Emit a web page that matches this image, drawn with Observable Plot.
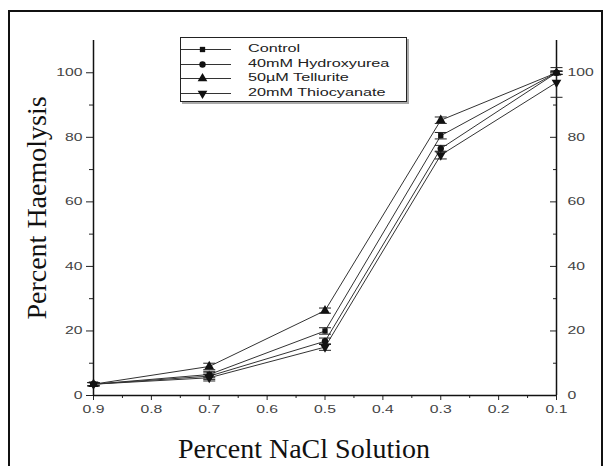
<!DOCTYPE html>
<html><head><meta charset="utf-8">
<script src="https://cdn.jsdelivr.net/npm/d3@7"></script>
<script src="https://cdn.jsdelivr.net/npm/@observablehq/plot@0.6"></script>
<style>
html,body{margin:0;padding:0;background:#fff;overflow:hidden;width:608px;height:466px}
#wrap{position:relative;width:608px;height:466px}
#wrap svg{position:absolute;left:0;top:0}
#frame{position:absolute;left:8px;top:10px;width:595px;height:480px;border:2px solid #111;box-sizing:border-box;pointer-events:none}
#legend{position:absolute;left:180px;top:37px;width:225px;height:63px;border:1px solid #222;box-shadow:2px 2px 0 #aaa;background:#fff;font-family:Arial,"Liberation Sans",sans-serif;font-size:10px;color:#222}
.row{position:absolute;left:0;height:14px;width:100%}
.row svg{position:absolute;left:15px;top:0}
.row span{position:absolute;left:67px;top:0;line-height:14px;display:inline-block;transform:scaleX(1.62);transform-origin:left center;white-space:nowrap}
</style></head>
<body>
<div id="wrap"><div id="frame"></div></div>
<script>
// ---- data ----
const nacl = [0.9, 0.7, 0.5, 0.3, 0.1];
const seriesNames = ["Control", "40mM Hydroxyurea", "50µM Tellurite", "20mM Thiocyanate"];
const control     = [3.5, 6.5, 20.0, 80.5, 100];
const hydroxyurea = [3.5, 6.0, 16.8, 76.5, 100];
const tellurite   = [3.5, 9.0, 26.3, 85.3, 100];
const thiocyanate = [3.5, 5.5, 15.0, 74.5, 97];
const errControl     = [0.5, 1.0, 1.0, 1.0, 0.5];
const errHydroxyurea = [0.5, 1.0, 1.0, 1.0, 0.5];
const errTellurite   = [0.5, 1.0, 0.8, 1.0, 0.5];
const errThiocyanate = [0.5, 1.0, 1.0, 1.2, 4.6];
const yTicks = [0, 20, 40, 60, 80, 100];
const yMinor = [10, 30, 50, 70, 90];
const xTicks = [0.9, 0.8, 0.7, 0.6, 0.5, 0.4, 0.3, 0.2, 0.1];
const xMinor = [0.85, 0.75, 0.65, 0.55, 0.45, 0.35, 0.25, 0.15];
const xTitle = "Percent NaCl Solution";
const yTitle = "Percent Haemolysis";

const seriesValues = [control, hydroxyurea, tellurite, thiocyanate];
const seriesErrors = [errControl, errHydroxyurea, errTellurite, errThiocyanate];
const rows = seriesNames.flatMap((s, i) => nacl.map((x, j) => ({series: s, x, y: seriesValues[i][j], e: seriesErrors[i][j]})));

const capSymbol = {draw(ctx, size) { const w = Math.sqrt(size / Math.PI); ctx.moveTo(-w, 0); ctx.lineTo(w, 0); }};
const symbols = ["square", "circle", "triangle", "triangle"];
const rotations = [0, 0, 0, 180];
const sizes = [3.0, 3.2, 3.6, 3.6];

const dotMarks = seriesNames.map((s, i) => Plot.dot(rows.filter(d => d.series === s), {
  x: "x", y: "y", symbol: symbols[i], rotate: rotations[i], r: sizes[i], fill: "#111", stroke: "none"
}));

const chart = Plot.plot({
  width: 608, height: 466,
  marginLeft: 93, marginRight: 52, marginTop: 40, marginBottom: 71,
  x: {domain: [0.9, 0.1]},
  y: {domain: [0, 110]},
  style: {fontFamily: "Arial, 'Liberation Sans', sans-serif", fontSize: "10.5px", color: "#333", background: "transparent", overflow: "visible"},
  marks: [
    Plot.axisY({anchor: "left", ticks: yTicks, tickSize: 7, tickPadding: 4, label: null, tickFormat: d => String(d), stroke: "#222", fill: "#444"}),
    Plot.axisY({anchor: "left", ticks: yMinor, tickSize: 4, tickFormat: () => "", label: null, stroke: "#222"}),
    Plot.axisY({anchor: "right", ticks: yTicks, tickSize: -7, tickPadding: 18, label: null, tickFormat: d => String(d), stroke: "#222", fill: "#444"}),
    Plot.axisY({anchor: "right", ticks: yMinor, tickSize: -4, tickFormat: () => "", label: null, stroke: "#222"}),
    Plot.axisX({anchor: "bottom", ticks: xTicks, tickSize: 5, tickPadding: 5, tickFormat: d3.format(".1f"), label: null, stroke: "#222", fill: "#444"}),
    Plot.axisX({anchor: "bottom", ticks: xMinor, tickSize: 3, tickFormat: () => "", label: null, stroke: "#222"}),
    Plot.ruleX([0.9, 0.1], {stroke: "#111", strokeWidth: 1.5}),
    Plot.ruleY([0], {stroke: "#111", strokeWidth: 1.5}),
    Plot.line(rows, {x: "x", y: "y", z: "series", stroke: "#333", strokeWidth: 1}),
    Plot.ruleX(rows, {x: "x", y1: d => d.y - d.e, y2: d => d.y + d.e, stroke: "#222", strokeWidth: 1}),
    Plot.dot(rows, {x: "x", y: d => d.y - d.e, symbol: capSymbol, r: 6, stroke: "#222", strokeWidth: 1, fill: "none"}),
    Plot.dot(rows, {x: "x", y: d => d.y + d.e, symbol: capSymbol, r: 6, stroke: "#222", strokeWidth: 1, fill: "none"}),
    ...dotMarks,
    Plot.text([xTitle], {frameAnchor: "bottom", dx: -21, dy: 62, text: d => d, textAnchor: "middle", fontFamily: "'Liberation Serif', 'DejaVu Serif', serif", fontSize: 28, fill: "#111", lineAnchor: "bottom"}),
    Plot.text([yTitle], {frameAnchor: "left", dx: -56, dy: -10, rotate: -90, text: d => d, textAnchor: "middle", fontFamily: "'Liberation Serif', 'DejaVu Serif', serif", fontSize: 28, fill: "#111", lineAnchor: "middle"})
  ]
});

const wrap = document.getElementById("wrap");
wrap.insertBefore(chart, wrap.firstChild);

// stretch numeric tick labels horizontally like the reference
chart.querySelectorAll("text").forEach(t => {
  const s = (t.textContent || "").trim();
  if (!/^[0-9.]+$/.test(s)) return;
  let len = 0;
  try { len = t.getComputedTextLength(); } catch (e) {}
  if (!(len > 0)) { try { len = t.getBBox().width; } catch (e) {} }
  if (!(len > 0)) len = s.length * 5.6;
  t.setAttribute("textLength", (len * 1.5).toFixed(1));
  t.setAttribute("lengthAdjust", "spacingAndGlyphs");
});

// legend
const legend = document.createElement("div");
legend.id = "legend";
const legendRowTops = [4, 18.5, 33, 47.5];
seriesNames.forEach((name, i) => {
  const row = document.createElement("div");
  row.className = "row";
  row.style.top = legendRowTops[i] + "px";
  const icon = Plot.plot({
    width: 50, height: 14, margin: 0,
    x: {domain: [0, 1], axis: null}, y: {domain: [0, 1], axis: null},
    style: {background: "transparent", overflow: "visible"},
    marks: [
      Plot.ruleY([0.5], {stroke: "#333", strokeWidth: 1}),
      Plot.dot([0.42], {x: d => d, y: 0.5, symbol: symbols[i], rotate: rotations[i], r: sizes[i], fill: "#111", stroke: "none"})
    ]
  });
  row.appendChild(icon);
  const span = document.createElement("span");
  span.textContent = name;
  row.appendChild(span);
  legend.appendChild(row);
});
wrap.appendChild(legend);
</script>
</body></html>
